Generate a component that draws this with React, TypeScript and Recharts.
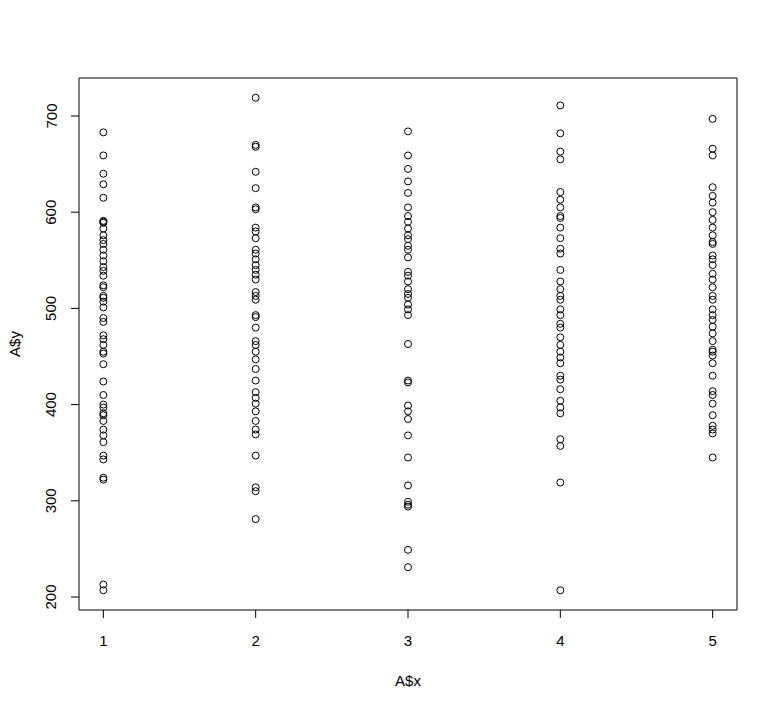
import React from 'react';
import {
  ScatterChart,
  Scatter,
  XAxis,
  YAxis,
  ReferenceArea,
  Label,
} from 'recharts';

// y values, one list per x group
const group1 = [
  683, 659, 640, 629, 615, 591, 590, 589, 583, 576, 571, 567, 561, 555, 549,
  543, 539, 534, 524, 522, 513, 511, 507, 501, 490, 486, 472, 468, 462, 455,
  453, 442, 424, 410, 400, 397, 391, 389, 383, 374, 368, 361, 347, 343, 324,
  322, 213, 207,
];
const group2 = [
  719, 670, 668, 642, 625, 605, 603, 584, 580, 573, 561, 557, 551, 545, 540,
  535, 530, 517, 513, 509, 493, 491, 480, 466, 462, 455, 447, 437, 425, 413,
  407, 401, 393, 383, 374, 369, 347, 314, 310, 281,
];
const group3 = [
  684, 659, 645, 632, 620, 605, 596, 590, 583, 576, 572, 565, 561, 553, 538,
  534, 528, 520, 515, 511, 504, 499, 493, 463, 425, 423, 399, 393, 385, 368,
  345, 316, 299, 296, 294, 249, 231,
];
const group4 = [
  711, 682, 663, 655, 621, 613, 605, 596, 594, 584, 573, 562, 557, 540, 528,
  520, 513, 509, 499, 493, 484, 480, 470, 462, 455, 449, 443, 430, 426, 416,
  404, 397, 391, 364, 357, 319, 207,
];
const group5 = [
  697, 666, 659, 626, 617, 610, 600, 592, 584, 576, 569, 567, 555, 551, 545,
  536, 530, 522, 513, 509, 499, 493, 488, 481, 474, 466, 457, 455, 451, 443,
  430, 414, 410, 401, 389, 378, 374, 370, 345,
];

const groups = [group1, group2, group3, group4, group5];
const xTicks = [1, 2, 3, 4, 5];
const yTicks = [200, 300, 400, 500, 600, 700];

const points = groups.flatMap((ys, i) => ys.map((y) => ({ x: xTicks[i], y })));

// R pads the data range by 4% on each side
const X_DOMAIN: [number, number] = [0.84, 5.16];
const Y_DOMAIN: [number, number] = [186.5, 739.5];

const FONT = '"Liberation Sans", Arial, sans-serif';
const FS = 15;

const OpenCircle = (props: any) => {
  const { cx, cy } = props;
  return <circle cx={cx} cy={cy} r={3.5} fill="none" stroke="#000" strokeWidth={1} />;
};

const XTick = (props: any) => {
  const { x, y, payload } = props;
  return (
    <text x={x} y={y + 20.5} textAnchor="middle" dominantBaseline="central" fontSize={FS} fontFamily={FONT} fill="#000">
      {payload.value}
    </text>
  );
};

const YTick = (props: any) => {
  const { y, payload } = props;
  const tx = 51;
  return (
    <text
      x={tx}
      y={y}
      transform={`rotate(-90, ${tx}, ${y})`}
      textAnchor="middle"
      dominantBaseline="central"
      fontSize={FS}
      fontFamily={FONT}
      fill="#000"
    >
      {payload.value}
    </text>
  );
};

export default function App() {
  return (
    <div style={{ position: 'absolute', left: 0, top: 0, width: 778, height: 709, background: '#fff' }}>
      <ScatterChart width={778} height={709} margin={{ top: 78, right: 41, bottom: 0, left: 0 }}>
        <XAxis
          type="number"
          dataKey="x"
          domain={X_DOMAIN}
          ticks={xTicks}
          allowDataOverflow
          axisLine={false}
          tickLine={{ stroke: '#000' }}
          tickSize={8}
          tick={<XTick />}
          height={99}
        >
          <Label
            content={() => (
              <text x={408} y={680} textAnchor="middle" dominantBaseline="central" fontSize={FS} fontFamily={FONT} fill="#000">
                A$x
              </text>
            )}
          />
        </XAxis>
        <YAxis
          type="number"
          dataKey="y"
          domain={Y_DOMAIN}
          ticks={yTicks}
          allowDataOverflow
          axisLine={false}
          tickLine={{ stroke: '#000' }}
          tickSize={8}
          tick={<YTick />}
          width={79}
        >
          <Label
            content={() => (
              <text
                x={14}
                y={344}
                transform="rotate(-90, 14, 344)"
                textAnchor="middle"
                dominantBaseline="central"
                fontSize={FS}
                fontFamily={FONT}
                fill="#000"
              >
                A$y
              </text>
            )}
          />
        </YAxis>
        <ReferenceArea
          x1={X_DOMAIN[0]}
          x2={X_DOMAIN[1]}
          y1={Y_DOMAIN[0]}
          y2={Y_DOMAIN[1]}
          fill="none"
          stroke="#000"
          strokeWidth={1}
          ifOverflow="visible"
        />
        <Scatter data={points} shape={<OpenCircle />} isAnimationActive={false} />
      </ScatterChart>
    </div>
  );
}
